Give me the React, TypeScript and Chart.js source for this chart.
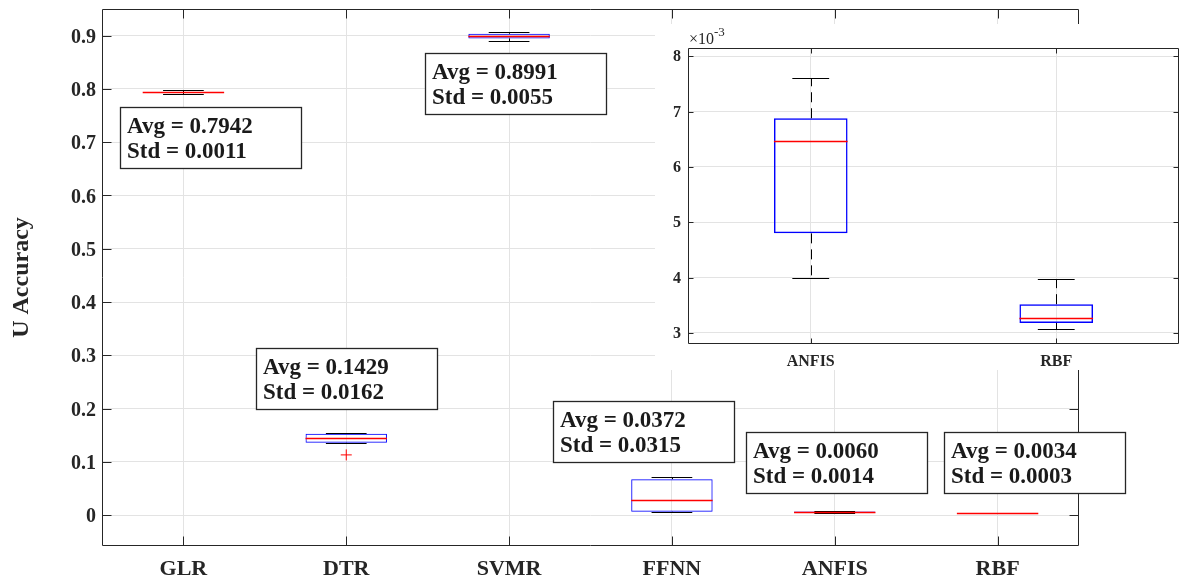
import React, { useEffect, useRef } from 'react';
import { Chart, registerables } from 'chart.js';

Chart.register(...registerables);

// ---------- data ----------
const categories = ['GLR', 'DTR', 'SVMR', 'FFNN', 'ANFIS', 'RBF'];
const whiskerLow = [0.7904, 0.1352, 0.8905, 0.006, 0.00399, 0.00307];
const q1 = [0.7934, 0.1356, 0.8948, 0.0062, 0.0048, 0.00318];
const median = [0.7936, 0.145, 0.899, 0.029, 0.00647, 0.00327];
const q3 = [0.7941, 0.1525, 0.9036, 0.0675, 0.00688, 0.00352];
const whiskerHigh = [0.7974, 0.1544, 0.906, 0.072, 0.00761, 0.00397];
const outliers: number[][] = [[], [0.113], [], [], [], []];
const avgLabels = ['0.7942', '0.1429', '0.8991', '0.0372', '0.0060', '0.0034'];
const stdLabels = ['0.0011', '0.0162', '0.0055', '0.0315', '0.0014', '0.0003'];
const yTicks = [0, 0.1, 0.2, 0.3, 0.4, 0.5, 0.6, 0.7, 0.8, 0.9];
const insetIndices = [4, 5];
const insetTicks = [0.003, 0.004, 0.005, 0.006, 0.007, 0.008];
const insetTickLabels = ['3', '4', '5', '6', '7', '8'];

// ---------- layout (annotation boxes, page pixels) ----------
const annotationBoxes = [
  { left: 120, top: 107 },
  { left: 256, top: 348 },
  { left: 425, top: 53 },
  { left: 553, top: 401 },
  { left: 746, top: 432 },
  { left: 944, top: 432 },
];
const ANN_W = 181;
const ANN_H = 61;

const AXIS = '#262626';
const GRID = '#e3e3e3';
const SERIF = '"Liberation Serif", "Times New Roman", serif';

type BoxOpts = {
  indices: number[];
  boxRatio: number;
  capRatio: number;
  dash: number[];
  tickLen: number;
  lineW: number;
  whiteBg: boolean;
  yTickValues: number[];
  extra?: (chart: any) => void;
};

function makeBoxPlugin(id: string, o: BoxOpts) {
  return {
    id,
    beforeDraw(chart: any) {
      if (!o.whiteBg) return;
      const ctx = chart.ctx;
      ctx.save();
      ctx.fillStyle = '#ffffff';
      ctx.fillRect(0, 0, chart.width, chart.height);
      ctx.restore();
    },
    afterDatasetsDraw(chart: any) {
      const { ctx } = chart;
      const x = chart.scales.x;
      const y = chart.scales.y;
      const step = x.getPixelForValue(1) - x.getPixelForValue(0);
      const al = (v: number) => Math.round(v) + 0.5;
      ctx.save();
      o.indices.forEach((di, k) => {
        const cx = x.getPixelForValue(k);
        const bw = step * o.boxRatio;
        const cw = step * o.capRatio;
        // whiskers
        ctx.lineWidth = 1;
        const xc = al(cx);
        const yq1 = y.getPixelForValue(q1[di]);
        const yq3 = y.getPixelForValue(q3[di]);
        const ylo = al(y.getPixelForValue(whiskerLow[di]));
        const yhi = al(y.getPixelForValue(whiskerHigh[di]));
        ctx.strokeStyle = '#000000';
        ctx.setLineDash(o.dash);
        ctx.beginPath();
        ctx.moveTo(xc, yq3);
        ctx.lineTo(xc, yhi);
        ctx.moveTo(xc, yq1);
        ctx.lineTo(xc, ylo);
        ctx.stroke();
        ctx.setLineDash([]);
        ctx.beginPath();
        ctx.moveTo(cx - cw / 2, yhi);
        ctx.lineTo(cx + cw / 2, yhi);
        ctx.moveTo(cx - cw / 2, ylo);
        ctx.lineTo(cx + cw / 2, ylo);
        ctx.stroke();
        // median (on top)
        const ym = al(y.getPixelForValue(median[di]));
        ctx.lineWidth = o.lineW;
        ctx.strokeStyle = '#ff0000';
        ctx.beginPath();
        ctx.moveTo(cx - bw / 2, ym);
        ctx.lineTo(cx + bw / 2, ym);
        ctx.stroke();
      });
      ctx.restore();
    },
    afterDraw(chart: any) {
      const { ctx, chartArea } = chart;
      const x = chart.scales.x;
      const y = chart.scales.y;
      const al = (v: number) => Math.round(v) + 0.5;
      const L = al(chartArea.left);
      const R = al(chartArea.right - 1);
      const T = al(chartArea.top);
      const B = al(chartArea.bottom - 1);
      ctx.save();
      ctx.strokeStyle = AXIS;
      ctx.lineWidth = 1;
      ctx.beginPath();
      ctx.rect(L, T, R - L, B - T);
      ctx.stroke();
      ctx.beginPath();
      o.indices.forEach((_, k) => {
        const px = al(x.getPixelForValue(k));
        ctx.moveTo(px, B);
        ctx.lineTo(px, B - o.tickLen);
        ctx.moveTo(px, T);
        ctx.lineTo(px, T + o.tickLen);
      });
      o.yTickValues.forEach((v) => {
        const py = al(y.getPixelForValue(v));
        ctx.moveTo(L, py);
        ctx.lineTo(L + o.tickLen, py);
        ctx.moveTo(R, py);
        ctx.lineTo(R - o.tickLen, py);
      });
      ctx.stroke();
      ctx.restore();
      if (o.extra) o.extra(chart);
    },
  };
}

function drawAnnotations(chart: any) {
  const ctx = chart.ctx;
  ctx.save();
  ctx.font = `bold 23px ${SERIF}`;
  ctx.textBaseline = 'alphabetic';
  ctx.textAlign = 'left';
  annotationBoxes.forEach((b, i) => {
    ctx.fillStyle = '#ffffff';
    ctx.fillRect(b.left, b.top, ANN_W, ANN_H);
    ctx.strokeStyle = '#262626';
    ctx.lineWidth = 1.3;
    ctx.strokeRect(b.left + 0.5, b.top + 0.5, ANN_W, ANN_H);
    ctx.fillStyle = '#1a1a1a';
    ctx.fillText(`Avg = ${avgLabels[i]}`, b.left + 7, b.top + 26);
    ctx.fillText(`Std = ${stdLabels[i]}`, b.left + 7, b.top + 51);
  });
  ctx.restore();
}

function drawExponent(chart: any) {
  const ctx = chart.ctx;
  const { left, top } = chart.chartArea;
  ctx.save();
  ctx.fillStyle = '#262626';
  ctx.textAlign = 'left';
  ctx.textBaseline = 'alphabetic';
  ctx.font = `16px ${SERIF}`;
  ctx.fillText('\u00d710', left + 1, top - 4);
  const w = ctx.measureText('\u00d710').width;
  ctx.font = `13px ${SERIF}`;
  ctx.fillText('-3', left + 1 + w, top - 12);
  ctx.restore();
}

const zeroPad = (s: any) => {
  s.paddingTop = 0;
  s.paddingBottom = 0;
  s.paddingLeft = 0;
  s.paddingRight = 0;
};

export default function App() {
  const mainRef = useRef<HTMLCanvasElement>(null);
  const insetRef = useRef<HTMLCanvasElement>(null);

  useEffect(() => {
    const mainCanvas = mainRef.current!;
    const insetCanvas = insetRef.current!;

    const outlierPoints: { x: string; y: number }[] = [];
    outliers.forEach((arr, i) => arr.forEach((v) => outlierPoints.push({ x: categories[i], y: v })));

    const main = new Chart(mainCanvas, {
      type: 'bar',
      data: {
        labels: categories,
        datasets: [
          {
            type: 'bar',
            data: categories.map((_, i) => [q1[i], q3[i]]) as any,
            backgroundColor: 'rgba(0,0,0,0)',
            borderColor: '#0000ff',
            borderWidth: 1,
            borderSkipped: false,
            barPercentage: 0.5,
            categoryPercentage: 1,
          } as any,
          {
            type: 'line',
            data: outlierPoints as any,
            showLine: false,
            pointStyle: 'cross',
            pointRadius: 5.5,
            pointBorderColor: '#ff0000',
            pointBorderWidth: 1,
            borderColor: '#ff0000',
          } as any,
        ],
      },
      options: {
        responsive: false,
        animation: false,
        events: [],
        layout: { padding: { top: 9, right: 101, left: 0, bottom: 0 } },
        plugins: { legend: { display: false }, tooltip: { enabled: false } },
        scales: {
          x: {
            type: 'category',
            offset: true,
            grid: { offset: false, color: GRID, drawTicks: false },
            border: { display: false },
            ticks: {
              padding: 10,
              color: '#262626',
              font: { family: SERIF, size: 22, weight: 'bold' },
            },
            afterFit: (s: any) => {
              s.height = 34;
              zeroPad(s);
            },
          },
          y: {
            type: 'linear',
            min: -0.058,
            max: 0.95,
            grid: { color: GRID, drawTicks: false },
            border: { display: false },
            afterBuildTicks: (s: any) => {
              s.ticks = yTicks.map((v) => ({ value: v }));
            },
            ticks: {
              padding: 6,
              labelOffset: 2,
              color: '#262626',
              font: { family: SERIF, size: 20, weight: 'bold' },
              callback: (v: any) => String(v),
            },
            title: {
              display: true,
              text: 'U Accuracy',
              color: '#262626',
              padding: { top: 7, bottom: 0 },
              font: { family: SERIF, size: 24, weight: 'bold' },
            },
            afterFit: (s: any) => {
              s.width = 102;
              zeroPad(s);
            },
          },
        },
      } as any,
      plugins: [
        makeBoxPlugin('mainBoxes', {
          indices: categories.map((_, i) => i),
          boxRatio: 0.5,
          capRatio: 0.25,
          dash: [6, 4],
          tickLen: 9,
          lineW: 1.5,
          whiteBg: false,
          yTickValues: yTicks,
          extra: drawAnnotations,
        }) as any,
      ],
    });

    const inset = new Chart(insetCanvas, {
      type: 'bar',
      data: {
        labels: insetIndices.map((i) => categories[i]),
        datasets: [
          {
            type: 'bar',
            data: insetIndices.map((i) => [q1[i], q3[i]]) as any,
            backgroundColor: 'rgba(0,0,0,0)',
            borderColor: '#0000ff',
            borderWidth: 1.5,
            borderSkipped: false,
            barPercentage: 0.3,
            categoryPercentage: 1,
          } as any,
        ],
      },
      options: {
        responsive: false,
        animation: false,
        events: [],
        layout: { padding: { top: 24, right: 1, left: 0, bottom: 0 } },
        plugins: { legend: { display: false }, tooltip: { enabled: false } },
        scales: {
          x: {
            type: 'category',
            offset: true,
            grid: { offset: false, color: GRID, drawTicks: false },
            border: { display: false },
            ticks: {
              padding: 8,
              color: '#262626',
              font: { family: SERIF, size: 16, weight: 'bold' },
            },
            afterFit: (s: any) => {
              s.height = 26;
              zeroPad(s);
            },
          },
          y: {
            type: 'linear',
            min: 0.0028,
            max: 0.00815,
            grid: { color: GRID, drawTicks: false },
            border: { display: false },
            afterBuildTicks: (s: any) => {
              s.ticks = insetTicks.map((v) => ({ value: v }));
            },
            ticks: {
              padding: 7,
              labelOffset: 1,
              color: '#262626',
              font: { family: SERIF, size: 16, weight: 'bold' },
              callback: (_v: any, idx: number) => insetTickLabels[idx],
            },
            afterFit: (s: any) => {
              s.width = 33;
              zeroPad(s);
            },
          },
        },
      } as any,
      plugins: [
        makeBoxPlugin('insetBoxes', {
          indices: insetIndices,
          boxRatio: 0.3,
          capRatio: 0.15,
          dash: [10, 6],
          tickLen: 5,
          lineW: 1.5,
          whiteBg: true,
          yTickValues: insetTicks,
          extra: drawExponent,
        }) as any,
      ],
    });

    return () => {
      main.destroy();
      inset.destroy();
    };
  }, []);

  return (
    <div style={{ position: 'absolute', left: 0, top: 0, width: 1180, height: 580, background: '#ffffff' }}>
      <canvas ref={mainRef} width={1180} height={580} style={{ position: 'absolute', left: 0, top: 0 }} />
      <canvas ref={insetRef} width={525} height={346} style={{ position: 'absolute', left: 655, top: 24 }} />
    </div>
  );
}
